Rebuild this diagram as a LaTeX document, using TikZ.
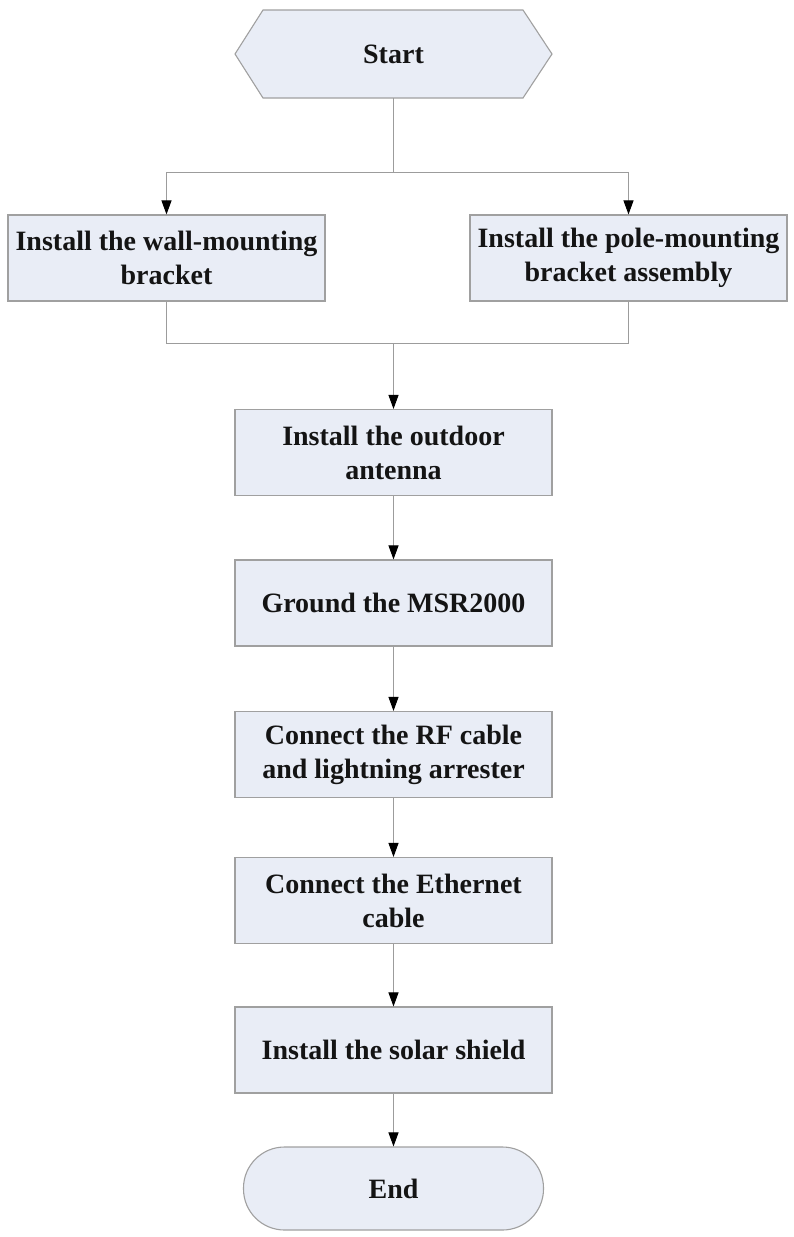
\documentclass[tikz,border=0pt]{standalone}
\usepackage{fontspec}
\setmainfont{Liberation Serif}
\usetikzlibrary{arrows.meta}
\definecolor{boxfill}{HTML}{E9EDF6}
\definecolor{boxline}{HTML}{A0A0A0}
\definecolor{linec}{HTML}{9C9C9C}
\definecolor{txt}{HTML}{141414}
\begin{document}
\begin{tikzpicture}[x=1pt,y=-1pt,
  lbl/.style={font=\fontsize{28}{34}\selectfont\bfseries, text=txt, align=center, inner sep=0pt},
  box/.style={lbl, draw=boxline, fill=boxfill, line width=1.1pt, minimum width=317pt, minimum height=86pt},
  endbox/.style={lbl, draw=boxline, fill=boxfill, line width=1.1pt, minimum width=300pt, minimum height=83pt, rounded corners=41pt},
  link/.style={draw=linec, line width=1pt},
  arr/.style={link, -{Triangle[length=14pt,width=10pt,color=black]}}]
\useasboundingbox (0,0) rectangle (793,1237);
\fill[white] (0,0) rectangle (793,1237);
% Start hexagon
\filldraw[fill=boxfill, draw=boxline, line width=1.1pt]
  (235,54) -- (263,10) -- (523,10) -- (552,54) -- (523,98) -- (263,98) -- cycle;
\node[lbl, minimum width=260pt, minimum height=88pt] (start) at (393.5,54) {Start};
\node[box] (wall) at (166.5,258) {Install the wall-mounting\\bracket};
\node[box] (pole) at (628.5,258) {Install the pole-mounting\\bracket assembly};
\node[box] (outdoor) at (393.5,452.5) {Install the outdoor\\antenna};
\node[box] (ground) at (393.5,603) {Ground the MSR2000};
\node[box] (rf) at (393.5,754.5) {Connect the RF cable\\and lightning arrester};
\node[box] (eth) at (393.5,900.5) {Connect the Ethernet\\cable};
\node[box] (solar) at (393.5,1050) {Install the solar shield};
\node[endbox] (end) at (393.5,1188.5) {End};
\coordinate (split) at (393.5,172);
\coordinate (merge) at (393.5,343);
\draw[link] (start.south) -- (split);
\draw[arr] (split) -| (wall.north);
\draw[arr] (split) -| (pole.north);
\draw[link] (wall.south) |- (merge);
\draw[link] (pole.south) |- (merge);
\draw[arr] (merge) -- (outdoor.north);
\draw[arr] (outdoor) -- (ground);
\draw[arr] (ground) -- (rf);
\draw[arr] (rf) -- (eth);
\draw[arr] (eth) -- (solar);
\draw[arr] (solar) -- (end);
\end{tikzpicture}
\end{document}
